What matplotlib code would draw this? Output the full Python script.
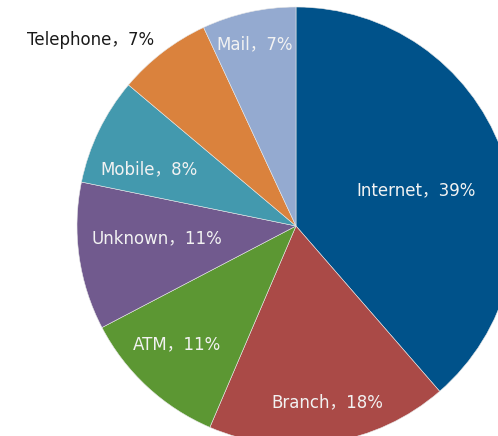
import matplotlib
matplotlib.use("Agg")
import matplotlib.pyplot as plt

plt.rcParams['font.family'] = ['DejaVu Sans', 'Noto Sans CJK SC']

channels = ["Internet", "Branch", "ATM", "Unknown", "Mobile", "Telephone", "Mail"]
shares = [39, 18, 11, 11, 8, 7, 7]
colors = ["#00528A", "#AA4A47", "#5C9733", "#715A8E", "#4399AE", "#DA823D", "#94AAD0"]
text_colors = ["#F2F2F2", "#F2F2F2", "#F2F2F2", "#F2F2F2", "#F2F2F2", "#1A1A1A", "#F2F2F2"]
label_pos = [(0.548, 0.164), (0.142, -0.804), (-0.543, -0.539), (-0.635, -0.055),
             (-0.671, 0.26), (-0.94, 0.849), (-0.187, 0.831)]

W, H = 498, 436
cx, cy, R = 296, 226, 219

fig = plt.figure(figsize=(W / 100, H / 100), dpi=100)
ax = fig.add_axes([0, 0, 1, 1])
ax.pie(shares, colors=colors, startangle=90, counterclock=False, radius=1,
       wedgeprops=dict(edgecolor="#E8E8E8", linewidth=0.4))
ax.set_xlim(-cx / R, (W - cx) / R)
ax.set_ylim(-(H - cy) / R, cy / R)
ax.set_aspect("equal")
ax.axis("off")

for name, val, (x, y), tc in zip(channels, shares, label_pos, text_colors):
    ax.text(x, y, f"{name}，{val}%", ha="center", va="center", fontsize=12, color=tc)

fig.savefig("out.png", dpi=100)
